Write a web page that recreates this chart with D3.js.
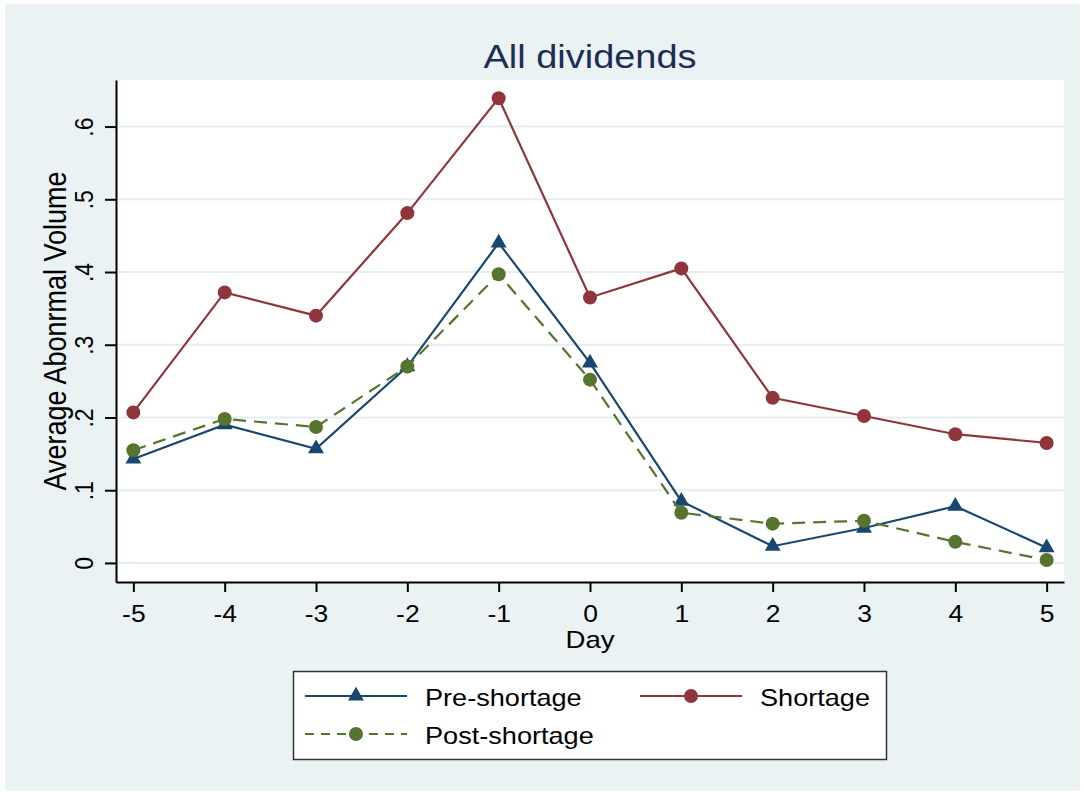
<!DOCTYPE html>
<html>
<head>
<meta charset="utf-8">
<script src="https://cdn.jsdelivr.net/npm/d3@7"></script>
<style>
  body { margin: 0; background: #fff; }
  svg text { font-family: "Liberation Sans", Arial, sans-serif; }
</style>
</head>
<body>
<svg id="chart"></svg>
<script>
/* DATA */
const days = [-5, -4, -3, -2, -1, 0, 1, 2, 3, 4, 5];
const preShortage  = [0.143, 0.190, 0.157, 0.270, 0.440, 0.275, 0.085, 0.023, 0.048, 0.078, 0.021];
const shortage     = [0.207, 0.372, 0.340, 0.481, 0.639, 0.365, 0.405, 0.227, 0.202, 0.177, 0.165];
const postShortage = [0.155, 0.198, 0.187, 0.270, 0.397, 0.252, 0.069, 0.054, 0.058, 0.029, 0.004];
const yTicks = [0, 0.1, 0.2, 0.3, 0.4, 0.5, 0.6];
const seriesNames = ["Pre-shortage", "Shortage", "Post-shortage"];

/* CONSTANTS */
const width = 1084, height = 795;
const plot = { left: 116, right: 1064, top: 80, bottom: 582 };
const bg = "#eaf2f3";
const sx = 1.15; // text in the original is a bit stretched horizontally

const series = [
  { name: seriesNames[0], values: preShortage,  color: "#1a476f", marker: "triangle", dash: null },
  { name: seriesNames[1], values: shortage,     color: "#90353b", marker: "circle",   dash: null },
  { name: seriesNames[2], values: postShortage, color: "#55752f", marker: "circle",   dash: "13,8" },
];

const svg = d3.select("#chart")
  .attr("width", width)
  .attr("height", height);

// outer background
svg.append("rect")
  .attr("x", 5).attr("y", 4)
  .attr("width", 1075).attr("height", 787)
  .attr("fill", bg);

// plot region
svg.append("rect")
  .attr("x", plot.left).attr("y", plot.top)
  .attr("width", plot.right - plot.left)
  .attr("height", plot.bottom - plot.top)
  .attr("fill", "#fff");

// scales
const x = d3.scaleLinear().domain([-5.19, 5.19]).range([plot.left, plot.right]);
const y = d3.scaleLinear().domain([-0.0262, 0.664]).range([plot.bottom, plot.top]);

// gridlines
svg.append("g")
  .selectAll("line")
  .data(yTicks)
  .join("line")
    .attr("x1", plot.left).attr("x2", plot.right)
    .attr("y1", d => y(d)).attr("y2", d => y(d))
    .attr("stroke", "#e4edf0")
    .attr("stroke-width", 2);

// Y axis
const fmtY = d => d === 0 ? "0" : d3.format(".1f")(d).replace("0.", ".");
const yAxis = svg.append("g")
  .attr("transform", `translate(${plot.left},0)`)
  .call(d3.axisLeft(y).tickValues(yTicks).tickFormat(fmtY).tickSize(11).tickSizeOuter(0));

yAxis.selectAll("text")
  .attr("x", 0).attr("dy", 0)
  .attr("text-anchor", "middle")
  .attr("transform", `translate(-23,0) scale(${sx},1) rotate(-90)`)
  .attr("font-size", 23)
  .attr("fill", "#000");

// X axis (plain hyphen for negatives, like the original)
const xAxis = svg.append("g")
  .attr("transform", `translate(0,${plot.bottom})`)
  .call(d3.axisBottom(x).tickValues(days).tickFormat(d => String(d)).tickSize(10).tickSizeOuter(0));

xAxis.selectAll("text")
  .attr("y", 0).attr("dy", 0)
  .attr("transform", `translate(0,40) scale(${sx},1)`)
  .attr("font-size", 23)
  .attr("fill", "#000");

svg.selectAll(".domain, .tick line")
  .attr("stroke", "#000")
  .attr("stroke-width", 2);

// titles
svg.append("text")
  .attr("transform", `translate(${(plot.left + plot.right) / 2},68) scale(${sx},1)`)
  .attr("text-anchor", "middle")
  .attr("font-size", 33)
  .attr("fill", "#1e2d53")
  .text("All dividends");

svg.append("text")
  .attr("transform", `translate(${(plot.left + plot.right) / 2},648) scale(${sx},1)`)
  .attr("text-anchor", "middle")
  .attr("font-size", 24)
  .attr("fill", "#000")
  .text("Day");

svg.append("text")
  .attr("transform", `translate(66,${(plot.top + plot.bottom) / 2}) scale(${sx},1) rotate(-90)`)
  .attr("text-anchor", "middle")
  .attr("font-size", 27)
  .attr("fill", "#000")
  .text("Average Abonrmal Volume");

// lines and markers
const line = d3.line()
  .x((d, i) => x(days[i]))
  .y(d => y(d));

const tri = d3.symbol().type(d3.symbolTriangle).size(110);

function drawMarker(sel, s) {
  if (s.marker === "triangle") {
    sel.append("path").attr("d", tri).attr("fill", s.color);
  } else {
    sel.append("circle").attr("r", 7).attr("fill", s.color);
  }
}

series.forEach(s => {
  const g = svg.append("g");
  g.append("path")
    .datum(s.values)
    .attr("d", line)
    .attr("fill", "none")
    .attr("stroke", s.color)
    .attr("stroke-width", 2.2)
    .attr("stroke-dasharray", s.dash);

  g.selectAll("g.pt")
    .data(s.values)
    .join("g")
      .attr("class", "pt")
      .attr("transform", (d, i) => `translate(${x(days[i])},${y(d)})`)
      .each(function() { drawMarker(d3.select(this), s); });
});

// legend
const legend = svg.append("g");
legend.append("rect")
  .attr("x", 293.5).attr("y", 671.5)
  .attr("width", 593).attr("height", 88)
  .attr("fill", "#fff")
  .attr("stroke", "#333")
  .attr("stroke-width", 1.5);

const legendPos = [[305, 696], [640, 696], [305, 734]];

series.forEach((s, i) => {
  const [lx, ly] = legendPos[i];
  const item = legend.append("g").attr("transform", `translate(${lx},${ly})`);
  item.append("line")
    .attr("x1", 0).attr("x2", 102)
    .attr("stroke", s.color)
    .attr("stroke-width", 2.2)
    .attr("stroke-dasharray", s.dash ? "9,7" : null);
  drawMarker(item.append("g").attr("transform", "translate(51,0)"), s);
  item.append("text")
    .attr("transform", `translate(120,10) scale(1.13,1)`)
    .attr("font-size", 24)
    .attr("fill", "#000")
    .text(s.name);
});
</script>
</body>
</html>
